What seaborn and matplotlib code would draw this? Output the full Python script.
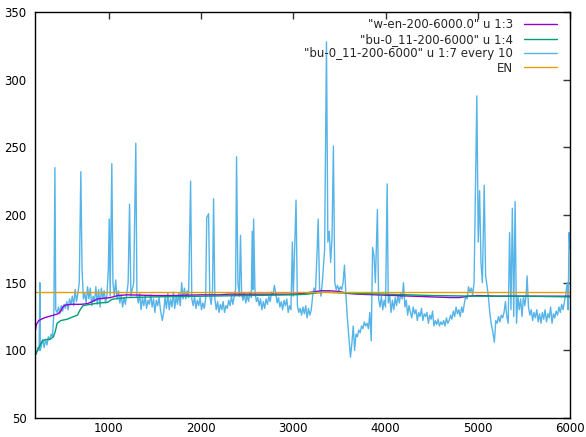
import matplotlib
matplotlib.use("Agg")
import matplotlib.pyplot as plt
import seaborn as sns
import pandas as pd

# ---- data ----
purple_x = [200, 215, 240, 270, 300, 350, 400, 450, 480, 500, 530, 600, 700, 770, 820, 880, 950, 1020,
            1100, 1200, 1500, 1700, 2000, 2200, 2300, 2500, 2700, 3000, 3100, 3200, 3300, 3400, 3500,
            3600, 3700, 3900, 4100, 4300, 4500, 4700, 4800, 4900, 5000, 5200, 5500, 5800, 6000]
purple_y = [113, 119, 122, 123, 124, 125, 126, 127, 129, 132, 133.5, 134, 134, 134.5, 136, 138, 138.5, 139,
            140.5, 141, 140.5, 140.5, 141, 141, 141.5, 141.5, 141.5, 141.5, 142, 143, 144, 144, 143.5,
            142, 141.5, 141, 140.5, 140, 139.5, 139, 139, 140, 140.5, 140, 140, 140, 140]

green_x = [200, 220, 250, 280, 320, 360, 400, 420, 440, 480, 550, 620, 660, 690, 720, 800, 900, 990,
           1030, 1060, 1200, 1500, 2000, 2500, 3000, 3150, 3250, 3350, 3500, 3700, 4000, 4500, 5000,
           5500, 6000]
green_y = [96, 99, 103, 107, 108, 108, 110, 114, 120, 122, 123, 125, 126, 130, 133, 134, 135, 135.5,
           137.5, 138, 139, 139.5, 140, 140.5, 141, 141.5, 142.5, 143, 142.5, 142, 141.5, 140.5, 140,
           140, 139.5]

blue_x = [200, 215, 230, 245, 253, 258, 270, 285, 300, 315, 330, 345, 360, 375, 390, 405, 416, 425, 440,
          455, 470, 485, 500, 515, 530, 545, 560, 575, 590, 605, 620, 635, 650, 665, 680, 697, 710, 725,
          740, 755, 770, 785, 800, 815, 830, 845, 860, 875, 890, 905, 920, 935, 950, 965, 980, 995, 1005,
          1015, 1033, 1045, 1060, 1075, 1090, 1105, 1120, 1135, 1150, 1165, 1180, 1195, 1210, 1225, 1240,
          1255, 1270, 1293, 1305, 1320, 1335, 1350, 1365, 1380, 1395, 1410, 1425, 1440, 1455, 1470, 1485,
          1500, 1515, 1530, 1545, 1560, 1580, 1595, 1610, 1625, 1640, 1655, 1670, 1685, 1700, 1715, 1730,
          1745, 1760, 1775, 1790, 1805, 1820, 1835, 1850, 1865, 1887, 1900, 1915, 1930, 1945, 1960, 1975,
          1990, 2005, 2020, 2035, 2050, 2062, 2082, 2095, 2110, 2125, 2136, 2150, 2165, 2180, 2195, 2210,
          2225, 2240, 2255, 2270, 2285, 2300, 2315, 2330, 2345, 2360, 2375, 2385, 2400, 2415, 2428, 2440,
          2455, 2470, 2485, 2500, 2515, 2530, 2545, 2555, 2563, 2570, 2585, 2600, 2615, 2630, 2645, 2660,
          2675, 2690, 2705, 2720, 2735, 2750, 2765, 2780, 2795, 2810, 2825, 2840, 2855, 2870, 2885, 2900,
          2915, 2930, 2945, 2960, 2975, 2990, 3000, 3030, 3045, 3060, 3075, 3090, 3105, 3120, 3135, 3150,
          3165, 3180, 3195, 3210, 3225, 3240, 3255, 3270, 3285, 3300, 3315, 3340, 3360, 3375, 3390, 3405,
          3420, 3435, 3450, 3465, 3480, 3495, 3510, 3525, 3540, 3555, 3570, 3585, 3600, 3620, 3635, 3650,
          3665, 3680, 3695, 3710, 3725, 3740, 3755, 3770, 3785, 3800, 3815, 3830, 3845, 3860, 3875, 3890,
          3912, 3925, 3940, 3955, 3970, 3985, 4000, 4018, 4030, 4045, 4060, 4075, 4090, 4105, 4120, 4135,
          4150, 4165, 4180, 4195, 4210, 4225, 4240, 4255, 4270, 4285, 4300, 4315, 4330, 4345, 4360, 4375,
          4390, 4405, 4420, 4435, 4450, 4465, 4480, 4495, 4510, 4525, 4540, 4555, 4570, 4585, 4600, 4615,
          4630, 4645, 4660, 4675, 4690, 4705, 4720, 4735, 4750, 4765, 4780, 4795, 4810, 4825, 4840, 4855,
          4870, 4885, 4900, 4915, 4930, 4945, 4960, 4975, 4990, 5005, 5020, 5035, 5050, 5070, 5085, 5100,
          5115, 5130, 5145, 5160, 5180, 5195, 5210, 5225, 5240, 5255, 5270, 5285, 5300, 5315, 5330, 5345,
          5360, 5375, 5390, 5405, 5420, 5435, 5450, 5465, 5480, 5495, 5510, 5525, 5535, 5550, 5565, 5580,
          5595, 5610, 5625, 5640, 5655, 5670, 5685, 5700, 5715, 5730, 5745, 5760, 5775, 5790, 5805, 5820,
          5835, 5850, 5865, 5880, 5895, 5910, 5925, 5940, 5955, 5970, 5980, 5990, 6000]
blue_y = [100, 97, 102, 100, 150, 100, 104, 108, 102, 108, 104, 110, 108, 112, 110, 128, 235, 130, 128,
          132, 127, 133, 129, 134, 131, 136, 130, 138, 134, 140, 133, 145, 136, 142, 150, 232, 160, 138,
          142, 135, 147, 138, 146, 133, 140, 136, 147, 134, 145, 132, 146, 138, 144, 135, 141, 160, 197,
          140, 238, 150, 140, 152, 138, 144, 135, 141, 132, 139, 134, 142, 150, 208, 140,
          145, 150, 253, 141, 135, 142, 130, 139, 133, 140, 131, 137, 134, 141, 132, 138,
          128, 137, 133, 139, 130, 122, 128, 139, 131, 142, 130, 138, 132, 143, 131, 140,
          134, 142, 133, 150, 138, 146, 138, 144, 139, 225, 138, 133, 140, 131, 137, 133,
          139, 130, 135, 131, 138, 198, 201, 140, 134, 145, 212, 138, 130, 136, 128, 134,
          130, 136, 128, 133, 131, 137, 133, 140, 134, 140, 145, 243, 150, 140, 185, 142,
          137, 142, 135, 141, 136, 143, 139, 188, 145, 197, 143, 136, 139, 133, 138, 130,
          136, 131, 138, 134, 140, 136, 143, 141, 148, 142, 135, 139, 132, 136, 130, 137,
          133, 138, 128, 133, 130, 180, 140, 211, 133, 128, 131, 126, 132, 127, 133, 124,
          131, 126, 130, 140, 146, 142, 167, 197, 146, 140, 150, 175, 328, 180, 188, 165,
          183, 251, 150, 145, 148, 144, 147, 145, 150, 163, 142, 125, 112, 95, 105, 118,
          100, 112, 110, 115, 113, 118, 116, 121, 118, 120, 116, 128, 107, 176, 170, 150,
          204, 138, 132, 140, 130, 137, 132, 223, 135, 141, 128, 137, 130, 139, 133, 141,
          135, 142, 138, 150, 132, 137, 126, 133, 128, 124, 132, 127, 130, 122, 128, 125,
          131, 122, 127, 125, 128, 120, 126, 123, 129, 118, 122, 119, 123, 118, 121, 119,
          122, 118, 124, 120, 122, 126, 123, 129, 125, 132, 127, 130, 125, 132, 128, 135,
          140, 138, 147, 143, 146, 141, 150, 220, 288, 180, 218, 165, 150, 222, 155, 148,
          140, 128, 120, 115, 106, 122, 120, 125, 121, 126, 124, 128, 136, 125, 120, 187,
          130, 205, 125, 210, 120, 140, 130, 138, 125, 140, 133, 141, 155, 132, 126, 130,
          122, 128, 124, 130, 121, 127, 120, 128, 123, 130, 121, 127, 124, 132, 120, 127,
          124, 129, 126, 132, 128, 134, 130, 136, 142, 150, 130, 187, 175]

en_x = [200, 6000]
en_y = [143, 143]

labels = ['"w-en-200-6000.0" u 1:3', '"bu-0_11-200-6000" u 1:4',
          '"bu-0_11-200-6000" u 1:7 every 10', 'EN']
colors = ['#9400d3', '#009e73', '#56b4e9', '#e69f00']

x_ticks = [1000, 2000, 3000, 4000, 5000, 6000]
y_ticks = [50, 100, 150, 200, 250, 300, 350]

# ---- plot ----
sns.set_style("white")
plt.rcParams['font.family'] = ['DejaVu Sans']

fig = plt.figure(figsize=(5.86, 4.37), dpi=100)
ax = fig.add_axes([0.0597, 0.0435, 0.913, 0.929])

series = [(purple_x, purple_y), (green_x, green_y), (blue_x, blue_y), (en_x, en_y)]
order = [2, 0, 1, 3]
for i in order:
    xs, ys = series[i]
    df = pd.DataFrame({'x': xs, 'y': ys})
    sns.lineplot(data=df, x='x', y='y', ax=ax, color=colors[i], linewidth=1.0,
                 label=labels[i], estimator=None, sort=False)

ax.set_xlim(200, 6000)
ax.set_ylim(50, 350)
ax.set_xticks(x_ticks)
ax.set_yticks(y_ticks)
ax.set_xlabel('')
ax.set_ylabel('')
ax.tick_params(direction='in', length=5, width=1, top=True, right=True, labelsize=8.5,
               colors='#333333', labelcolor='black')
ax.tick_params(axis='x', pad=3)
ax.tick_params(axis='y', pad=6)
for s in ax.spines.values():
    s.set_color('black')
    s.set_linewidth(1.0)

handles, labs = ax.get_legend_handles_labels()
hmap = dict(zip(labs, handles))
leg = ax.legend([hmap[l] for l in labels], labels, loc='upper right', frameon=False,
                markerfirst=False, fontsize=8.5, handlelength=2.8, labelspacing=0.12,
                borderaxespad=0.0, handletextpad=0.9, bbox_to_anchor=(0.9845, 0.996))
for col in leg._legend_handle_box.get_children():
    col.align = 'right'

fig.savefig('out.png', dpi=100)
